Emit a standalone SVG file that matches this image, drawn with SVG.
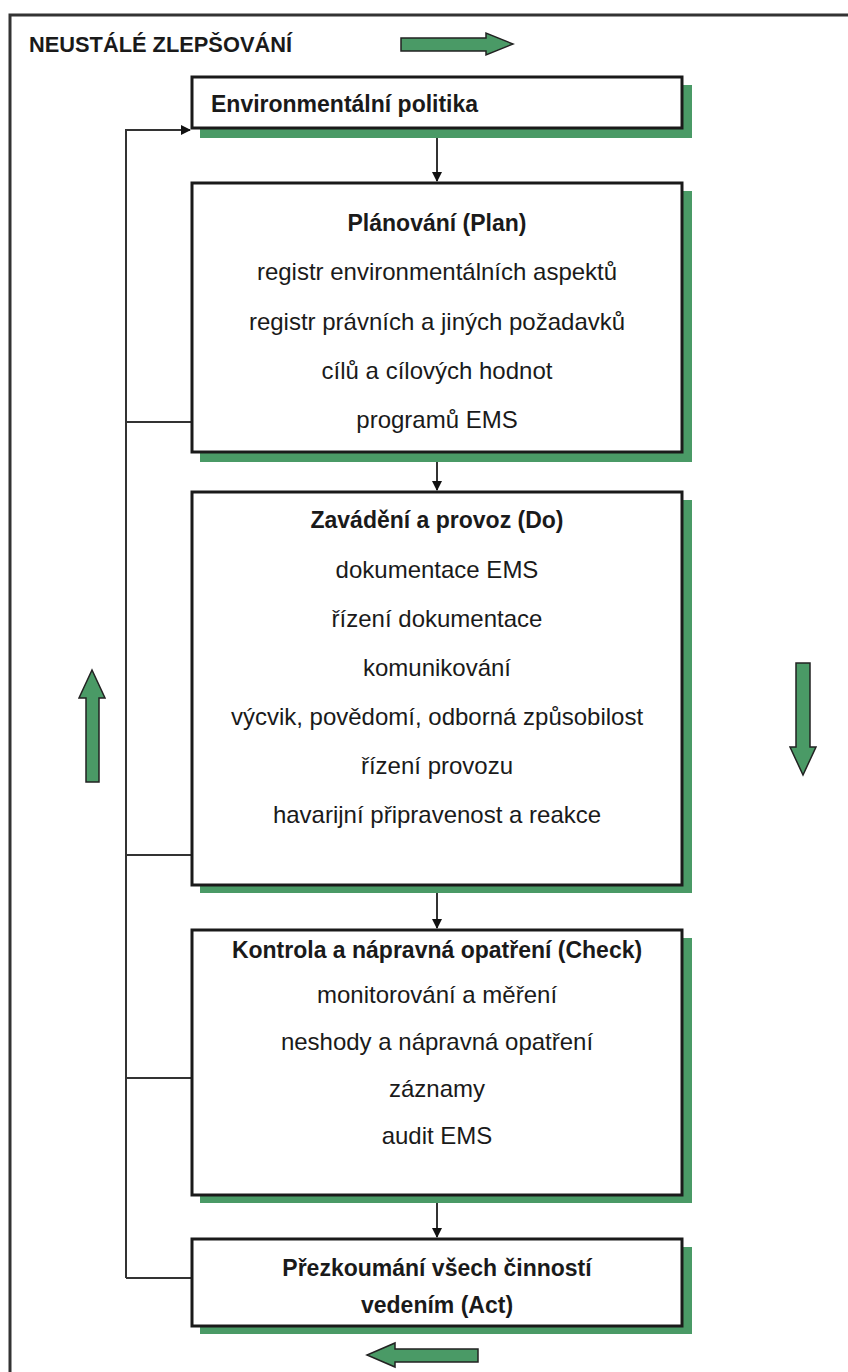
<svg xmlns="http://www.w3.org/2000/svg" width="848" height="1372" viewBox="0 0 848 1372">
<defs>
<style>
.frame{fill:none;stroke:#333;stroke-width:3}
.box{fill:#fff;stroke:#1a1a1a;stroke-width:3}
.shadow{fill:#4a9a66}
.t{font-family:"Liberation Sans",Arial,sans-serif;font-size:24px;fill:#1a1a1a;text-anchor:middle}
.b{font-weight:bold;font-size:23px}
.conn{fill:none;stroke:#333;stroke-width:2}
.garrow{fill:#4a9a66;stroke:#222;stroke-width:1.5;stroke-linejoin:miter}
</style>
<marker id="ah" markerWidth="10" markerHeight="10" refX="9" refY="5" orient="auto" markerUnits="userSpaceOnUse">
<path d="M0,0 L10,5 L0,10 Z" fill="#111"/>
</marker>
</defs>
<rect width="848" height="1372" fill="#fff"/>
<path class="frame" d="M10,1372 V15 H848"/>
<text class="t b" x="29" y="52" style="text-anchor:start;font-size:22px" textLength="263" lengthAdjust="spacingAndGlyphs">NEUSTÁLÉ ZLEPŠOVÁNÍ</text>

<g id="arrow-right"><path class="garrow" d="M401,38 H486 V33 L513,44 L486,55 V51 H401 Z"/></g>
<g id="arrow-up"><path class="garrow" d="M86,782 V698 H79 L92,670 L105,698 H99 V782 Z"/></g>
<g id="arrow-down"><path class="garrow" d="M796,663 H810 V747 H816 L803,775 L790,747 H796 Z"/></g>
<g id="arrow-left"><path class="garrow" d="M478,1349 H395 V1343 L367,1355 L395,1367 V1362 H478 Z"/></g>

<g id="connectors">
<path class="conn" d="M126,1278 V130 H190" marker-end="url(#ah)"/>
<path class="conn" d="M126,422 H192"/>
<path class="conn" d="M126,855 H192"/>
<path class="conn" d="M126,1078 H192"/>
<path class="conn" d="M126,1278 H192"/>
<path class="conn" d="M437,128 V181" marker-end="url(#ah)"/>
<path class="conn" d="M437,452 V490" marker-end="url(#ah)"/>
<path class="conn" d="M437,885 V928" marker-end="url(#ah)"/>
<path class="conn" d="M437,1195 V1237" marker-end="url(#ah)"/>
</g>

<g id="n-policy">
<rect class="shadow" x="200" y="85" width="492" height="53"/>
<rect class="box" x="192" y="77" width="490" height="51"/>
<text class="t b" x="211" y="112" style="text-anchor:start">Environmentální politika</text>
</g>

<g id="n-plan">
<rect class="shadow" x="200" y="191" width="492" height="271"/>
<rect class="box" x="192" y="183" width="490" height="269"/>
<text class="t b" x="437" y="231">Plánování (Plan)</text>
<text class="t" x="437" y="280">registr environmentálních aspektů</text>
<text class="t" x="437" y="330">registr právních a jiných požadavků</text>
<text class="t" x="437" y="379">cílů a cílových hodnot</text>
<text class="t" x="437" y="428">programů EMS</text>
</g>

<g id="n-do">
<rect class="shadow" x="200" y="500" width="492" height="393"/>
<rect class="box" x="192" y="492" width="490" height="393"/>
<text class="t b" x="437" y="528">Zavádění a provoz (Do)</text>
<text class="t" x="437" y="578">dokumentace EMS</text>
<text class="t" x="437" y="627">řízení dokumentace</text>
<text class="t" x="437" y="676">komunikování</text>
<text class="t" x="437" y="725">výcvik, povědomí, odborná způsobilost</text>
<text class="t" x="437" y="774">řízení provozu</text>
<text class="t" x="437" y="823">havarijní připravenost a reakce</text>
</g>

<g id="n-check">
<rect class="shadow" x="200" y="938" width="492" height="265"/>
<rect class="box" x="192" y="930" width="490" height="265"/>
<text class="t b" x="437" y="958">Kontrola a nápravná opatření (Check)</text>
<text class="t" x="437" y="1003">monitorování a měření</text>
<text class="t" x="437" y="1050">neshody a nápravná opatření</text>
<text class="t" x="437" y="1097">záznamy</text>
<text class="t" x="437" y="1144">audit EMS</text>
</g>

<g id="n-act">
<rect class="shadow" x="200" y="1247" width="492" height="87"/>
<rect class="box" x="192" y="1239" width="490" height="87"/>
<text class="t b" x="437" y="1276">Přezkoumání všech činností</text>
<text class="t b" x="437" y="1313">vedením (Act)</text>
</g>
</svg>
